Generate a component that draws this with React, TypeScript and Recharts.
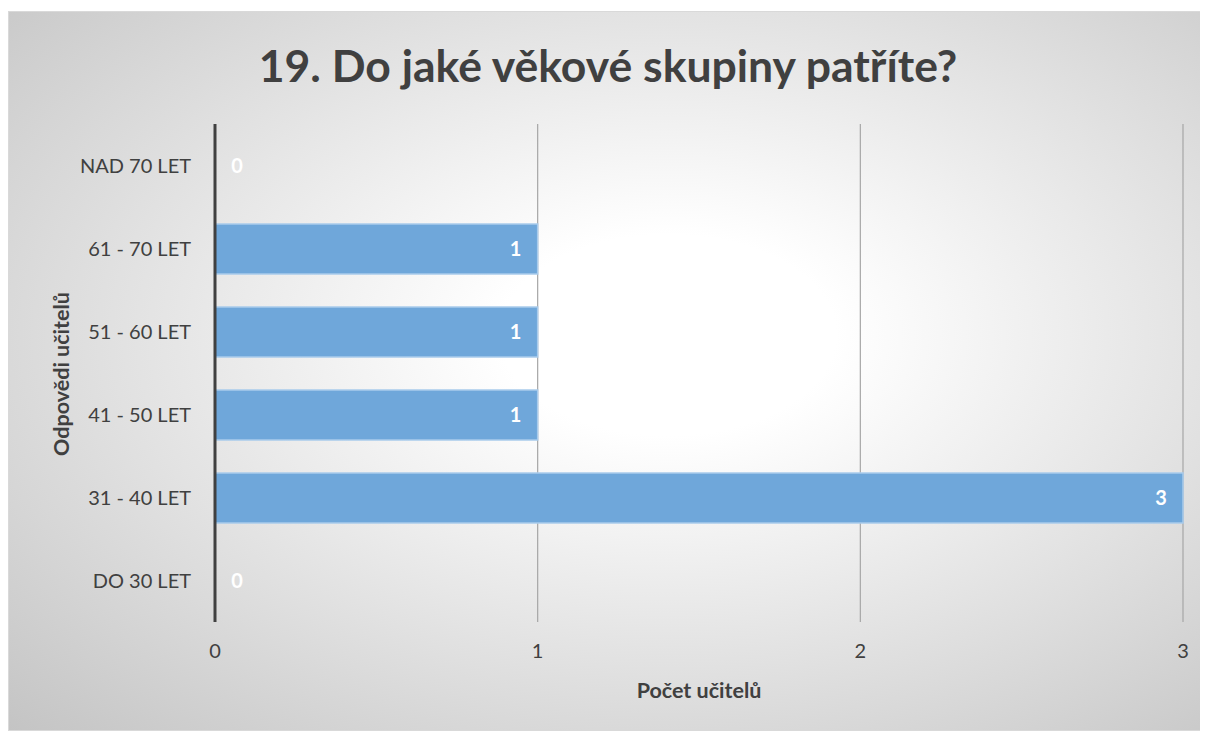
import { BarChart, Bar, XAxis, YAxis, CartesianGrid } from 'recharts'

const categories = ['NAD 70 LET', '61 - 70 LET', '51 - 60 LET', '41 - 50 LET', '31 - 40 LET', 'DO 30 LET']
const counts = [0, 1, 1, 1, 3, 0]
const xTicks = [0, 1, 2, 3]

const data = categories.map((name, i) => ({ name, count: counts[i] }))

const FONT = 'Lato, "Open Sans", sans-serif'
const TEXT = '#404040'

// draws the bar plus its white value label (zero bars still get a "0")
function BarWithLabel(props: any) {
  const { x, y, width, height, payload } = props
  const w = Number(width) || 0
  const cx = w > 0 ? x + w - 22 : x + 22
  return (
    <g>
      {w > 0 && (
        <rect x={x} y={y} width={w} height={height} fill="#6fa7da" stroke="#a9cbeb" strokeWidth={1.5} />
      )}
      <text
        x={cx}
        y={y + height / 2}
        dy="0.35em"
        textAnchor="middle"
        fill="#ffffff"
        fontSize={20}
        fontWeight={700}
        fontFamily={FONT}
      >
        {payload.count}
      </text>
    </g>
  )
}

export default function App() {
  return (
    <div
      style={{
        position: 'relative',
        width: 1198,
        height: 718,
        marginTop: 3,
        border: '1px solid #d9d9d9',
        background: 'radial-gradient(ellipse at 55% 45%, #ffffff 18%, #c4c4c4 100%)',
        fontFamily: FONT,
      }}
    >
      <div
        style={{
          position: 'absolute',
          top: 26,
          left: 0,
          width: '100%',
          textAlign: 'center',
          fontSize: 44.5,
          fontWeight: 700,
          color: TEXT,
        }}
      >
        19. Do jaké věkové skupiny patříte?
      </div>
      <div
        style={{
          position: 'absolute',
          left: 690,
          top: 665,
          transform: 'translateX(-50%)',
          fontSize: 21.5,
          fontWeight: 700,
          color: TEXT,
          whiteSpace: 'nowrap',
        }}
      >
        Počet učitelů
      </div>
      <div
        style={{
          position: 'absolute',
          left: 52,
          top: 362,
          transform: 'translate(-50%, -50%) rotate(-90deg)',
          fontSize: 21.5,
          fontWeight: 700,
          color: TEXT,
          whiteSpace: 'nowrap',
        }}
      >
        Odpovědi učitelů
      </div>
      <BarChart
        width={1198}
        height={718}
        data={data}
        layout="vertical"
        barSize={50}
        margin={{ top: 112, right: 24, left: 0, bottom: 78 }}
        style={{ position: 'absolute', top: 0, left: 0 }}
      >
        <CartesianGrid horizontal={false} stroke="#a6a6a6" strokeWidth={1.2} />
        <XAxis
          type="number"
          domain={[0, 3]}
          ticks={xTicks}
          axisLine={false}
          tickLine={false}
          tickMargin={16}
          tick={{ fontSize: 20, fill: TEXT, fontFamily: FONT }}
        />
        <YAxis
          type="category"
          dataKey="name"
          width={206}
          axisLine={{ stroke: '#404040', strokeWidth: 3 }}
          tickLine={false}
          tickMargin={18}
          tick={{ fontSize: 20, fill: TEXT, fontFamily: FONT }}
        />
        <Bar
          dataKey="count"
          fill="#6fa7da"
          shape={BarWithLabel}
          isAnimationActive={false}
        />
      </BarChart>
    </div>
  )
}
